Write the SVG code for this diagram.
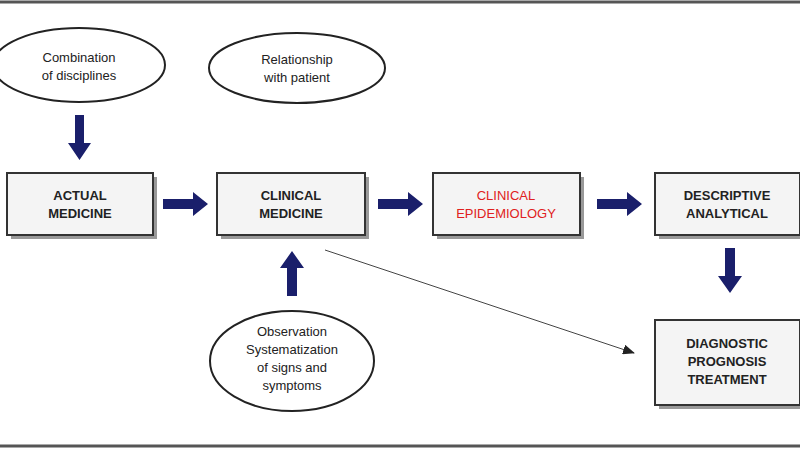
<svg xmlns="http://www.w3.org/2000/svg" width="800" height="450" viewBox="0 0 800 450">
<defs>
<style>
.box{fill:#f4f4f4;stroke:#333;stroke-width:2}
.sh{fill:#999}
.ell{fill:#fff;stroke:#222;stroke-width:2}
.t{font-family:"Liberation Sans",Arial,sans-serif;font-size:13px;fill:#222;text-anchor:middle}
.b{font-weight:bold}
.arr{fill:#1a1f6b}
</style>
<marker id="ah" markerWidth="12" markerHeight="10" refX="11" refY="5" orient="auto" markerUnits="userSpaceOnUse">
<path d="M0,0 L12,5 L0,10 Z" fill="#222"/>
</marker>
</defs>
<rect width="800" height="450" fill="#fff"/>
<line x1="0" y1="2" x2="800" y2="2" stroke="#555" stroke-width="3"/>
<line x1="0" y1="446" x2="800" y2="446" stroke="#555" stroke-width="3"/>
<g id="e1"><ellipse class="ell" cx="79" cy="65" rx="86" ry="37"/><text class="t" x="79" y="62">Combination</text><text class="t" x="79" y="80">of disciplines</text></g>
<g id="e2"><ellipse class="ell" cx="297" cy="68" rx="88" ry="35"/><text class="t" x="297" y="64">Relationship</text><text class="t" x="297" y="82">with patient</text></g>
<g id="e3"><ellipse class="ell" cx="292" cy="361" rx="82" ry="50"/><text class="t" x="292" y="336">Observation</text><text class="t" x="292" y="354">Systematization</text><text class="t" x="292" y="372">of signs and</text><text class="t" x="292" y="390">symptoms</text></g>
<g id="n1"><rect class="sh" x="11" y="177" width="146" height="62"/><rect class="box" x="7" y="173" width="146" height="62"/><text class="t b" x="80" y="200">ACTUAL</text><text class="t b" x="80" y="218">MEDICINE</text></g>
<g id="n2"><rect class="sh" x="221" y="177" width="148" height="62"/><rect class="box" x="217" y="173" width="148" height="62"/><text class="t b" x="291" y="200">CLINICAL</text><text class="t b" x="291" y="218">MEDICINE</text></g>
<g id="n3"><rect class="sh" x="437" y="177" width="147" height="62"/><rect class="box" x="433" y="173" width="147" height="62"/><text class="t" x="506" y="200" fill="#e02020" style="fill:#e02020">CLINICAL</text><text class="t" x="506" y="218" style="fill:#e02020">EPIDEMIOLOGY</text></g>
<g id="n4"><rect class="sh" x="659" y="177" width="145" height="62"/><rect class="box" x="655" y="173" width="145" height="62"/><text class="t b" x="727" y="200">DESCRIPTIVE</text><text class="t b" x="727" y="218">ANALYTICAL</text></g>
<g id="n5"><rect class="sh" x="659" y="324" width="145" height="85"/><rect class="box" x="655" y="320" width="145" height="85"/><text class="t b" x="727" y="348">DIAGNOSTIC</text><text class="t b" x="727" y="366">PROGNOSIS</text><text class="t b" x="727" y="384">TREATMENT</text></g>
<g id="connectors">
<path class="arr" d="M75,115 h9 v28 h7 l-11.5,17 l-11.5,-17 h7 z"/>
<path class="arr" d="M163,199 h30 v-7 l15,12 l-15,12 v-7 h-30 z"/>
<path class="arr" d="M378,199 h30 v-7 l15,12 l-15,12 v-7 h-30 z"/>
<path class="arr" d="M597,199 h30 v-7 l15,12 l-15,12 v-7 h-30 z"/>
<path class="arr" d="M287,296 h10 v-28 h7 l-12,-17 l-12,17 h7 z"/>
<path class="arr" d="M725,248 h10 v28 h7 l-12,17 l-12,-17 h7 z"/>
<line x1="325" y1="250" x2="634" y2="353" stroke="#444" stroke-width="1" marker-end="url(#ah)"/>
</g>
</svg>
